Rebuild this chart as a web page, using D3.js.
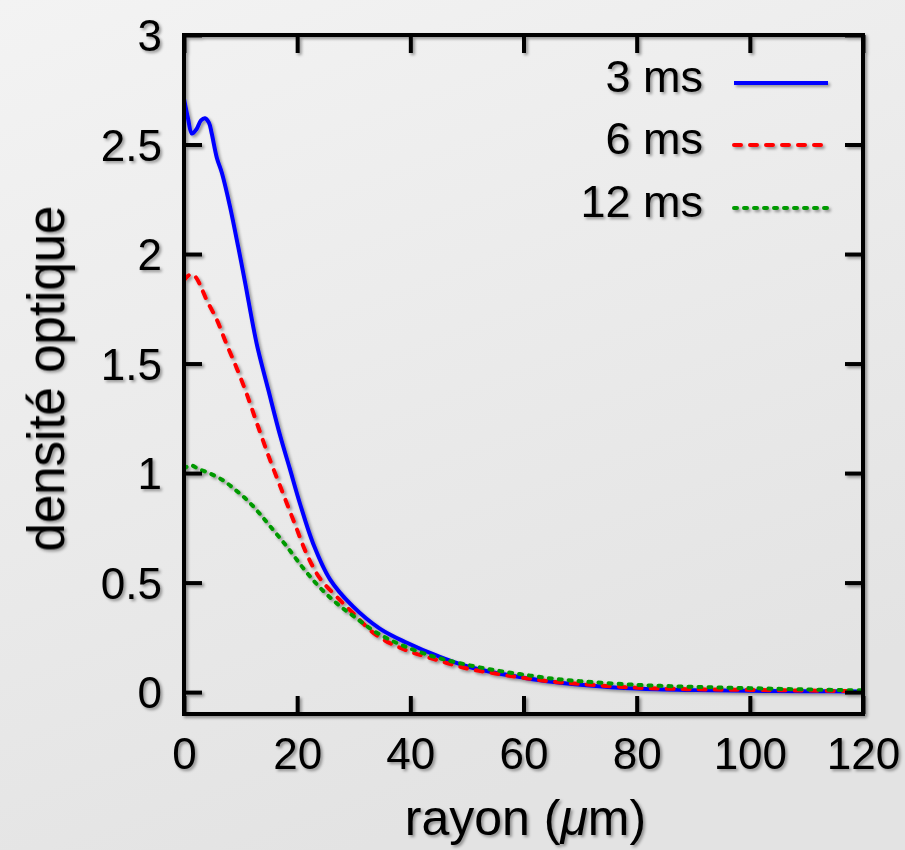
<!DOCTYPE html>
<html><head><meta charset="utf-8">
<script src="https://cdn.jsdelivr.net/npm/d3@7"></script>
<style>html,body{margin:0;padding:0;}svg{display:block;}</style>
</head><body>
<script>
const xTicks = [0, 20, 40, 60, 80, 100, 120];
const yTicks = [0, 0.5, 1, 1.5, 2, 2.5, 3];
const yTickLabels = ["0", "0.5", "1", "1.5", "2", "2.5", "3"];

const seriesNames = ["3 ms", "6 ms", "12 ms"];
const seriesColors = ["#0000ff", "#ff0000", "#009900"];

const r3 = [0, 0.7, 1.4, 2.2, 3.0, 3.7, 4.4, 4.9, 5.8, 6.7, 8.1, 9.6, 10.8, 12.85, 14.9, 17.0, 18.7, 20.5, 22.8, 25.8, 29.9, 34.6, 39.4, 44.7, 50, 55, 60, 65, 70, 80, 90, 100, 110, 120];
const od3 = [2.71, 2.62, 2.55, 2.57, 2.61, 2.62, 2.60, 2.55, 2.44, 2.37, 2.22, 2.03, 1.87, 1.59, 1.38, 1.17, 1.02, 0.86, 0.68, 0.515, 0.39, 0.29, 0.225, 0.166, 0.118, 0.088, 0.066, 0.047, 0.034, 0.016, 0.009, 0.006, 0.004, 0.003];

const r6 = [0, 0.7, 1.4, 2.2, 3.0, 4.0, 5.8, 7.5, 9.3, 11.1, 12.85, 15.2, 17.6, 19.7, 21.7, 24.0, 27.0, 29.9, 34.0, 38.8, 44, 50, 55, 60, 65, 70, 80, 90, 100, 110, 120];
const od6 = [1.88, 1.90, 1.91, 1.89, 1.85, 1.79, 1.70, 1.59, 1.48, 1.36, 1.23, 1.06, 0.90, 0.76, 0.63, 0.52, 0.435, 0.36, 0.26, 0.196, 0.152, 0.108, 0.085, 0.065, 0.048, 0.037, 0.02, 0.013, 0.01, 0.007, 0.004];

const r12 = [0, 0.6, 1.3, 2.5, 4.6, 6.95, 9, 11.1, 13.2, 15.2, 18.1, 21.1, 24, 27, 29.9, 34, 38.8, 44.7, 50, 55, 60, 65, 70, 80, 90, 100, 110, 120];
const od12 = [1.02, 1.03, 1.035, 1.02, 0.998, 0.966, 0.925, 0.878, 0.82, 0.758, 0.667, 0.565, 0.478, 0.405, 0.348, 0.272, 0.211, 0.158, 0.125, 0.1, 0.08, 0.062, 0.05, 0.033, 0.024, 0.018, 0.012, 0.008];

const W = 905, H = 850;
const L = 184, R = 863, T = 35, B = 714;
const FONT = "'Liberation Sans', Arial, sans-serif";

const svg = d3.select("body").append("svg").attr("width", W).attr("height", H);
const defs = svg.append("defs");
const grad = defs.append("linearGradient").attr("id", "bg").attr("x1", "0").attr("y1", "0").attr("x2", "0.4").attr("y2", "1");
grad.append("stop").attr("offset", "0").attr("stop-color", "#f3f3f3");
grad.append("stop").attr("offset", "1").attr("stop-color", "#e3e3e3");
const f = defs.append("filter").attr("id", "shadow").attr("x", "-10%").attr("y", "-10%").attr("width", "120%").attr("height", "120%");
f.append("feDropShadow").attr("dx", 2).attr("dy", 2).attr("stdDeviation", 1.6).attr("flood-color", "#000").attr("flood-opacity", 0.38);
defs.append("clipPath").attr("id", "clip").append("rect").attr("x", L).attr("y", T).attr("width", R - L).attr("height", B - T);

svg.append("rect").attr("width", W).attr("height", H).attr("fill", "url(#bg)");

const x = d3.scaleLinear().domain([0, 120]).range([L, R]);
const y = d3.scaleLinear().domain([-0.1, 3]).range([B, T]);

const g = svg.append("g").attr("filter", "url(#shadow)");

// curves
const series = [
  {r: r3, v: od3, dash: null, cap: "butt"},
  {r: r6, v: od6, dash: "7,9", cap: "round"},
  {r: r12, v: od12, dash: "3,7", cap: "round"}
];
const line = d3.line().x(d => x(d[0])).y(d => y(d[1])).curve(d3.curveCatmullRom.alpha(0.5));
const cg = g.append("g").attr("clip-path", "url(#clip)");
series.forEach((s, i) => {
  const pts = s.r.map((rv, k) => [rv, s.v[k]]);
  cg.append("path").attr("d", line(pts)).attr("fill", "none")
    .attr("stroke", seriesColors[i]).attr("stroke-width", 4)
    .attr("stroke-dasharray", s.dash).attr("stroke-linecap", s.cap).attr("stroke-linejoin", "round");
});

// frame and ticks
const TL = 18;
const axB = d3.axisBottom(x).tickValues(xTicks).tickSizeInner(-TL).tickSizeOuter(0).tickFormat(d => d).tickPadding(24);
const axT = d3.axisTop(x).tickValues(xTicks).tickSizeInner(-TL).tickSizeOuter(0).tickFormat("");
const axL = d3.axisLeft(y).tickValues(yTicks).tickSizeInner(-TL).tickSizeOuter(0).tickFormat((d, i) => yTickLabels[i]).tickPadding(24);
const axR = d3.axisRight(y).tickValues(yTicks).tickSizeInner(-TL).tickSizeOuter(0).tickFormat("");

function style(sel) {
  sel.select(".domain").remove();
  sel.selectAll(".tick line").attr("stroke", "#000").attr("stroke-width", 4);
  sel.selectAll(".tick text").attr("fill", "#000").style("font-family", FONT).style("font-size", "44px");
}
g.append("g").attr("transform", `translate(0,${B})`).call(axB).call(style)
  .selectAll(".tick text").attr("dy", "0.71em");
g.append("g").attr("transform", `translate(0,${T})`).call(axT).call(style);
g.append("g").attr("transform", `translate(${L},0)`).call(axL).call(style)
  .selectAll(".tick text").attr("x", -22).attr("dy", "0.36em");
g.append("g").attr("transform", `translate(${R},0)`).call(axR).call(style);

g.append("rect").attr("x", L).attr("y", T).attr("width", R - L).attr("height", B - T)
  .attr("fill", "none").attr("stroke", "#000").attr("stroke-width", 4);

// axis labels
const xl = g.append("text").attr("x", (L + R) / 2 + 2).attr("y", 835).attr("text-anchor", "middle")
  .style("font-family", FONT).style("font-size", "50px").attr("fill", "#000");
xl.append("tspan").text("rayon (");
xl.append("tspan").style("font-style", "italic").text("μ");
xl.append("tspan").text("m)");
g.append("text").attr("transform", `translate(64,${(T + B) / 2 + 4}) rotate(-90)`).attr("text-anchor", "middle")
  .style("font-family", FONT).style("font-size", "51px").attr("fill", "#000").text("densité optique");

// legend
const legBase = [92, 154, 217];
seriesNames.forEach((n, i) => {
  g.append("text").attr("x", 703).attr("y", legBase[i]).attr("text-anchor", "end")
    .style("font-family", FONT).style("font-size", "45px").attr("fill", "#000").text(n);
  g.append("line").attr("x1", 734).attr("x2", 828).attr("y1", legBase[i] - 9).attr("y2", legBase[i] - 9)
    .attr("stroke", seriesColors[i]).attr("stroke-width", 4)
    .attr("stroke-dasharray", series[i].dash).attr("stroke-linecap", series[i].cap);
});
</script>
</body></html>
